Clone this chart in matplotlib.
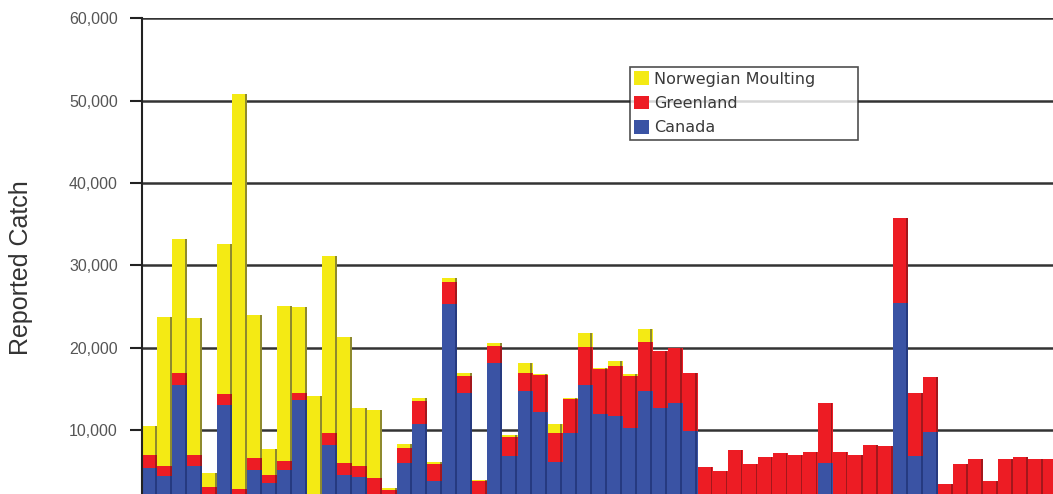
import numpy as np
import matplotlib
matplotlib.use("Agg")
import matplotlib.pyplot as plt
from matplotlib.patches import Patch
from matplotlib.ticker import FuncFormatter

# Reported catch per year (bars left to right); x-axis labels are cropped in the reference
canada = [5400, 4450, 15500, 5600, 2000, 13100, 2000, 5200, 3600, 5200,
          13700, 1200, 8200, 4550, 4330, 2000, 1800, 6000, 10800, 3850,
          25300, 14500, 1800, 18200, 6900, 14700, 12200, 6150, 9700, 15500,
          12000, 11700, 10300, 14800, 12700, 13300, 9900, 0, 0, 0,
          0, 0, 0, 0, 0, 6000, 0, 0, 0, 0,
          25500, 6900, 9800, 0, 0, 0, 0, 0, 0, 0, 0]
greenland_top = [7000, 5660, 17000, 7000, 3100, 14400, 2850, 6600, 4550, 6300,
                 14500, 1800, 9700, 6000, 5650, 4200, 2800, 7800, 13600, 5900,
                 28000, 16600, 3800, 20200, 9150, 17000, 16700, 9700, 13800, 20100,
                 17400, 17800, 16600, 20700, 19600, 20000, 17000, 5550, 5100, 7650,
                 5850, 6700, 7200, 7050, 7350, 13300, 7300, 7000, 8250, 8100,
                 35800, 14500, 16400, 3450, 5850, 6500, 3800, 6500, 6750, 6450, 6450]
total = [10500, 23800, 33200, 23600, 4800, 32600, 50800, 24000, 7700, 25100,
         24900, 14100, 31200, 21300, 12700, 12400, 3000, 8300, 13900, 6100,
         28500, 17000, 3950, 20600, 9400, 18200, 16800, 10800, 13900, 21800,
         17600, 18400, 16800, 22300, 19600, 20000, 17000, 5550, 5100, 7650,
         5850, 6700, 7200, 7050, 7350, 13300, 7300, 7000, 8250, 8100,
         35800, 14500, 16400, 3450, 5850, 6500, 3800, 6500, 6750, 6450, 6450]

canada = np.array(canada, dtype=float)
greenland = np.array(greenland_top, dtype=float) - canada
norwegian = np.array(total, dtype=float) - np.array(greenland_top, dtype=float)

series_names = ["Canada", "Greenland", "Norwegian Moulting"]
colors = {"Canada": "#3A53A4", "Greenland": "#ED1C24", "Norwegian Moulting": "#F4EA14"}
dark = {"Canada": "#263A80", "Greenland": "#A3171C", "Norwegian Moulting": "#8E8A2E"}

W, H = 1053, 494
fig = plt.figure(figsize=(W / 100, H / 100), dpi=100)
ax_left = 142 / W
ax_top = 1 - 18.3 / H
ax_bot = 1 - 512.6 / H
n = len(canada)
xmin, xmax = -0.5, n + 0.5
ax = fig.add_axes([ax_left, ax_bot, (xmax - xmin) * 15.02 / W, ax_top - ax_bot])

x = np.arange(n)
bottoms = np.zeros(n)
for name, vals in zip(series_names, [canada, greenland, norwegian]):
    ax.bar(x, vals, bottom=bottoms, width=1.0, color=colors[name], linewidth=0, zorder=2)
    mask = vals > 0
    ax.bar(x[mask] + 0.5 - 0.09, vals[mask], bottom=bottoms[mask], width=0.12,
           color=dark[name], linewidth=0, zorder=3)
    bottoms = bottoms + vals

ax.set_xlim(xmin, xmax)
ax.set_ylim(0, 60000)
ax.set_yticks([10000, 20000, 30000, 40000, 50000, 60000])
ax.yaxis.set_major_formatter(FuncFormatter(lambda v, p: f"{int(v):,}"))
ax.yaxis.grid(True, color="#333333", linewidth=1.8, zorder=0)
ax.set_axisbelow(True)
ax.set_xticks([])
for s in ["top", "right", "bottom"]:
    ax.spines[s].set_visible(False)
ax.spines["left"].set_linewidth(1.5)
ax.spines["left"].set_color("#222222")
ax.tick_params(axis="y", length=8.4, width=1.5, color="#222222", pad=9,
               labelsize=11.5, labelcolor="#555555")
for lab in ax.get_yticklabels():
    lab.set_family(["Liberation Sans", "DejaVu Sans"])

fig.text(21 / W, 1 - 268 / H, "Reported Catch", rotation=90, ha="center", va="center",
         fontsize=18, color="#333333", family=["Liberation Sans", "DejaVu Sans"])

handles = [Patch(facecolor=colors[nm], edgecolor="none") for nm in reversed(series_names)]
leg = fig.legend(handles, list(reversed(series_names)), loc="upper left",
                 bbox_to_anchor=(630 / W, 1 - 140 / H, 228 / W, 73 / H), mode="expand",
                 fancybox=False, shadow=False, frameon=True, borderaxespad=0,
                 handlelength=0.9, handleheight=0.9, handletextpad=0.3,
                 labelspacing=0.58, borderpad=0.28,
                 prop={"family": ["DejaVu Sans"], "size": 11.5})
leg.get_frame().set_edgecolor("#222222")
leg.get_frame().set_linewidth(1.2)
for t in leg.get_texts():
    t.set_color("#3a3a3a")

fig.savefig("out.png", dpi=100)
